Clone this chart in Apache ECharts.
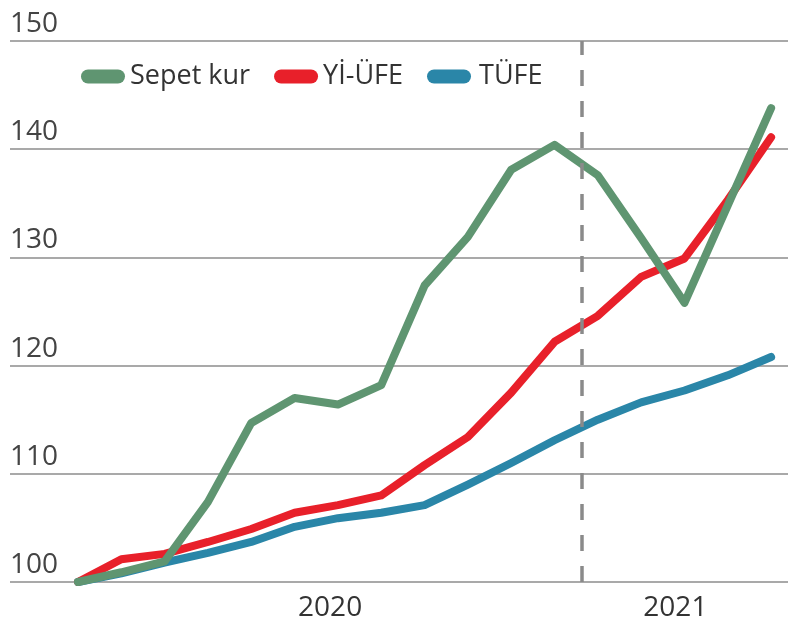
<!DOCTYPE html>
<html>
<head>
<meta charset="utf-8">
<script src="https://cdn.jsdelivr.net/npm/echarts@6/dist/echarts.min.js"></script>
<style>
html,body{margin:0;padding:0;background:#fff;}
#chart{width:788px;height:623px;}
</style>
</head>
<body>
<div id="chart"></div>
<script>
// Monthly index values (start = 100)
const seriesNames = ['Sepet kur', 'Yİ-ÜFE', 'TÜFE'];
const sepetKur = [100, 100.9, 101.9, 107.4, 114.7, 117.0, 116.4, 118.2, 127.4, 131.9, 138.1, 140.4, 137.6, 131.8, 125.8, 134.8, 143.8];
const yiUfe    = [100, 102.1, 102.6, 103.7, 104.9, 106.4, 107.1, 108.0, 110.8, 113.4, 117.5, 122.2, 124.6, 128.2, 129.9, 135.3, 141.1];
const tufe     = [100, 100.8, 101.8, 102.7, 103.7, 105.1, 105.9, 106.4, 107.1, 109.0, 111.0, 113.1, 115.0, 116.6, 117.7, 119.1, 120.8];
const yearLabels = ['2020', '2021'];
const yearTickAt = [5.82, 13.79];
const dividerAt = 11.62;
const yTicks = [100, 110, 120, 130, 140, 150];

const FONT = "'Liberation Sans Narrow', 'Open Sans', sans-serif";
const colors = ['#5f9571', '#e8202a', '#2a86a8'];

function pairs(arr){ return arr.map((v,i)=>[i,v]); }

const capsule = 'path://M7,0 H37 A7,7 0 0 1 37,14 H7 A7,7 0 0 1 7,0 Z';
const legendText = [
  {padding:[0,0,0,0]},
  {padding:[0,0,0,0], width:94},
  {padding:[0,0,0,3]}
];

const chart = echarts.init(document.getElementById('chart'), null, {renderer:'canvas'});
chart.setOption({
  animation:false,
  backgroundColor:'#fff',
  grid:{left:10, right:0, top:41, bottom:41, containLabel:false},
  legend:{
    left:76, top:58,
    itemWidth:44, itemHeight:14, itemGap:24,
    icon: capsule,
    textStyle:{fontFamily:FONT, fontSize:27, color:'#333'},
    data: seriesNames.map((n,i)=>({name:n, icon:capsule, itemStyle:{color:colors[i]},
      textStyle:Object.assign({fontFamily:FONT, fontSize:27, color:'#333'}, legendText[i])}))
  },
  xAxis:{
    type:'value', min:-1.57, max:16.39,
    axisLine:{show:false}, axisTick:{show:false}, splitLine:{show:false},
    axisLabel:{
      customValues: yearTickAt,
      formatter:(v)=>{ const k = yearTickAt.findIndex(t=>Math.abs(t-v)<1e-6); return k>=0?yearLabels[k]:''; },
      fontFamily:FONT, fontSize:28, color:'#333', margin:12
    }
  },
  yAxis:{
    type:'value', min:yTicks[0], max:yTicks[yTicks.length-1], interval:10,
    axisLine:{show:false}, axisTick:{show:false},
    splitLine:{show:true, lineStyle:{color:'#a9a9a9', width:2}},
    axisLabel:{inside:true, margin:0, verticalAlign:'bottom', padding:[0,0,3,0],
      fontFamily:FONT, fontSize:28, color:'#444'}
  },
  series:[
    {name:seriesNames[2], type:'line', data:pairs(tufe), showSymbol:false, z:2,
      lineStyle:{color:colors[2], width:8, cap:'round', join:'round'}, itemStyle:{color:colors[2]}},
    {name:seriesNames[1], type:'line', data:pairs(yiUfe), showSymbol:false, z:3,
      lineStyle:{color:colors[1], width:8, cap:'round', join:'round'}, itemStyle:{color:colors[1]},
      markLine:{symbol:'none', silent:true, label:{show:false},
        lineStyle:{color:'#8a8a8a', width:3.5, type:[16,15]},
        data:[[{coord:[dividerAt,100]},{coord:[dividerAt,150]}]]}},
    {name:seriesNames[0], type:'line', data:pairs(sepetKur), showSymbol:false, z:4,
      lineStyle:{color:colors[0], width:8, cap:'round', join:'round'}, itemStyle:{color:colors[0]}}
  ]
});
</script>
</body>
</html>
